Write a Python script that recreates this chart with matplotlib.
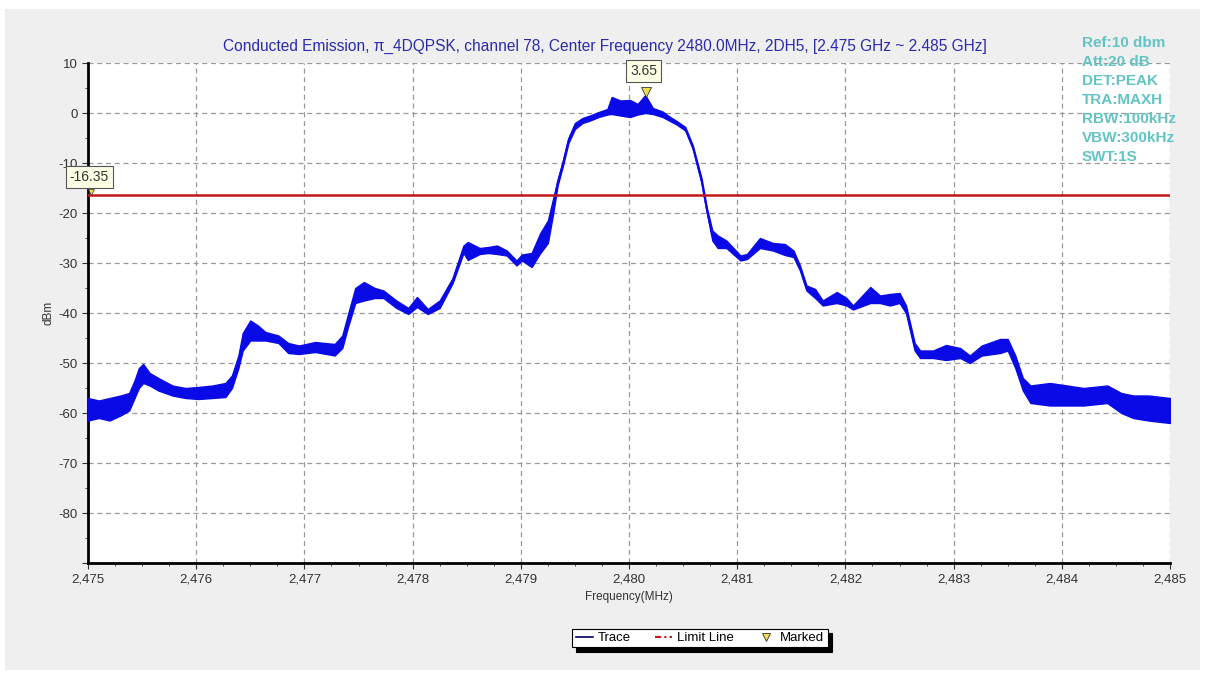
import matplotlib.pyplot as plt
from matplotlib.lines import Line2D
from matplotlib.patches import Rectangle
from matplotlib.ticker import MultipleLocator, FuncFormatter

plt.rcParams['font.family'] = ['Liberation Sans', 'DejaVu Sans']

# trace envelope (MHz, dBm upper, dBm lower)
freq = [2475.00, 2475.10, 2475.20, 2475.30, 2475.38, 2475.43, 2475.47, 2475.51, 2475.57, 2475.65,
        2475.78, 2475.90, 2476.02, 2476.15, 2476.27, 2476.33, 2476.39, 2476.43, 2476.50, 2476.57,
        2476.64, 2476.76, 2476.85, 2476.95, 2477.10, 2477.28, 2477.35, 2477.40, 2477.47, 2477.55,
        2477.65, 2477.73, 2477.85, 2477.96, 2478.04, 2478.14, 2478.25, 2478.37, 2478.47, 2478.51,
        2478.62, 2478.70, 2478.78, 2478.87, 2478.96, 2479.01, 2479.10, 2479.18, 2479.25, 2479.30,
        2479.34, 2479.39, 2479.44, 2479.50, 2479.57, 2479.64, 2479.72, 2479.80, 2479.84, 2479.92,
        2480.01, 2480.08, 2480.15, 2480.22, 2480.31, 2480.38, 2480.44, 2480.52, 2480.59, 2480.67,
        2480.72, 2480.77, 2480.82, 2480.90, 2481.03, 2481.09, 2481.21, 2481.33, 2481.44, 2481.52,
        2481.58, 2481.64, 2481.72, 2481.79, 2481.92, 2482.01, 2482.07, 2482.23, 2482.32, 2482.41,
        2482.50, 2482.56, 2482.64, 2482.69, 2482.81, 2482.93, 2483.06, 2483.15, 2483.26, 2483.43,
        2483.50, 2483.57, 2483.64, 2483.71, 2483.89, 2484.05, 2484.20, 2484.42, 2484.55, 2484.66,
        2484.80, 2485.00]
upper = [-57.0, -57.5, -57.0, -56.5, -56.0, -53.5, -51.0, -50.2, -52.0, -53.0,
         -54.5, -55.0, -54.8, -54.5, -54.0, -52.5, -48.5, -44.0, -41.5, -42.5,
         -43.8, -44.5, -46.0, -46.5, -45.8, -46.2, -44.5, -40.5, -35.0, -33.8,
         -35.0, -35.5, -37.5, -39.0, -36.8, -39.2, -37.5, -33.0, -26.5, -25.8,
         -27.0, -26.8, -26.5, -27.5, -29.5, -28.3, -28.0, -24.0, -21.5, -17.0,
         -13.4, -9.5, -5.0, -2.0, -1.0, -0.5, 0.2, 0.8, 3.2, 2.5,
         2.6, 1.8, 3.6, 1.0, 0.3, -0.8, -1.6, -2.8, -6.5, -13.0,
         -19.0, -23.5, -24.5, -25.5, -28.5, -28.2, -25.0, -26.0, -26.2, -27.5,
         -30.5, -34.5, -35.2, -37.5, -35.8, -37.0, -38.5, -34.8, -36.5, -36.2,
         -36.0, -38.5, -46.0, -47.5, -47.5, -46.4, -47.0, -48.5, -46.5, -45.2,
         -45.2, -48.5, -53.0, -54.5, -54.0, -54.5, -55.0, -54.5, -56.0, -56.5,
         -56.5, -57.0]
lower = [-61.5, -61.0, -61.5, -60.5, -59.5, -57.0, -55.0, -54.0, -54.5, -55.5,
         -56.5, -57.0, -57.2, -57.0, -56.8, -55.0, -51.0, -47.5, -45.5, -45.5,
         -45.5, -46.0, -48.0, -48.2, -47.8, -48.5, -47.0, -43.0, -38.0, -37.5,
         -37.0, -37.0, -39.0, -40.2, -38.8, -40.2, -39.0, -34.0, -28.0, -29.4,
         -28.2, -28.0, -28.2, -28.5, -30.5, -29.5, -30.8, -28.0, -26.0, -20.0,
         -14.5, -10.5, -6.0, -3.2, -2.0, -1.5, -0.8, -0.3, -0.2, -0.5,
         -0.8, -0.3, 0.0, -0.2, -0.8, -1.6, -2.3, -3.5, -7.2, -14.0,
         -20.0, -25.5, -27.0, -27.0, -29.5, -29.2, -27.0, -27.5, -28.4, -28.8,
         -31.5, -35.5, -37.0, -38.5, -38.0, -38.5, -39.3, -38.0, -38.0, -38.5,
         -38.0, -40.0, -47.5, -49.0, -49.0, -49.4, -49.0, -50.0, -48.5, -48.0,
         -47.5, -51.0, -55.5, -58.0, -58.5, -58.5, -58.5, -58.0, -60.0, -61.0,
         -61.5, -62.0]

limit_level = -16.35
peak_freq = 2480.16
peak_level = 3.65

settings = ['Ref:10 dbm', 'Att:20 dB', 'DET:PEAK', 'TRA:MAXH',
            'RBW:100kHz', 'VBW:300kHz', 'SWT:1S']

fig = plt.figure(figsize=(12.05, 6.75), dpi=100, facecolor='white')
fig.patches.append(Rectangle((5 / 1205, 5 / 675), 1195 / 1205, 661 / 675,
                             transform=fig.transFigure, facecolor='#efefef',
                             edgecolor='none', zorder=-10))

ax = fig.add_axes([88 / 1205, 112 / 675, 1082 / 1205, 500 / 675])
ax.set_zorder(2)
ax.set_facecolor('white')

mid = [(u + l) / 2 for u, l in zip(upper, lower)]
ax.fill_between(freq, lower, upper, color='#0a0ae6', linewidth=1.0, zorder=3)
ax.plot(freq, mid, color='#0a0ae6', linewidth=1.2, zorder=3)

ax.axhline(limit_level, color='#c01818', linewidth=1.8, zorder=4)

ax.set_xlim(2475, 2485)
ax.set_ylim(-90, 10)
ax.xaxis.set_major_locator(MultipleLocator(1))
ax.xaxis.set_minor_locator(MultipleLocator(0.25))
ax.yaxis.set_major_locator(MultipleLocator(10))
ax.yaxis.set_minor_locator(MultipleLocator(5))
ax.xaxis.set_major_formatter(FuncFormatter(lambda v, p: '{:,.0f}'.format(v)))
ax.yaxis.set_major_formatter(FuncFormatter(lambda v, p: '' if v < -85 else '%d' % v))
ax.tick_params(which='both', labelsize=9.5, colors='#333333', direction='out')
ax.tick_params(which='major', length=4)
ax.tick_params(which='minor', length=2)
ax.grid(True, which='major', linestyle=(0, (4, 3)), color='#999999', linewidth=0.9)

for s in ['top', 'right']:
    ax.spines[s].set_visible(False)
for s in ['left', 'bottom']:
    ax.spines[s].set_linewidth(2)
    ax.spines[s].set_color('black')

ax.set_xlabel('Frequency(MHz)', fontsize=8.5, color='#333333', labelpad=4)
ax.set_ylabel('dBm', fontsize=8.5, color='#333333', labelpad=3)

fig.text(605 / 1205, 1 - 46 / 675,
         'Conducted Emission, π_4DQPSK, channel 78, Center Frequency 2480.0MHz, 2DH5, [2.475 GHz ~ 2.485 GHz]',
         ha='center', va='center', fontsize=11.2, color='#2b2bb0')

# marker labels
box = dict(boxstyle='square,pad=0.3', facecolor='#ffffe6', edgecolor='#555555', linewidth=0.8)
ax.plot([peak_freq], [peak_level + 0.6], marker='v', markersize=7, color='#f0dc50',
        markeredgecolor='#333333', markeredgewidth=0.6, zorder=5)
ax.annotate('%.2f' % peak_level, xy=(peak_freq, peak_level), xytext=(-2, 17),
            textcoords='offset points', ha='center', va='center', fontsize=10,
            color='#333333', bbox=box, zorder=6)
ax.plot([2475.03], [limit_level + 0.6], marker='v', markersize=4, color='#f0dc50',
        markeredgecolor='#333333', markeredgewidth=0.5, zorder=5, clip_on=False)
ax.annotate('%.2f' % limit_level, xy=(2475, limit_level), xytext=(1, 13),
            textcoords='offset points', ha='center', va='center', fontsize=10,
            color='#333333', bbox=box, zorder=6, annotation_clip=False)

for i, s in enumerate(settings):
    fig.text(1082 / 1205, 1 - (43 + i * 19) / 675, s, ha='left', va='center',
             fontsize=11, fontweight='bold', color='#62c4c4', zorder=5)

handles = [Line2D([], [], color='#000060', linewidth=1.2),
           Line2D([], [], color='#c01818', linewidth=1.5, dashes=(3, 1.5, 1, 1.5)),
           Line2D([], [], color='#f0dc50', marker='v', linestyle='none', markersize=6,
                  markeredgecolor='#333333', markeredgewidth=0.6)]
leg = fig.legend(handles, ['Trace', 'Limit Line', 'Marked'], loc='center',
                 bbox_to_anchor=(700 / 1205, 1 - 638 / 675), ncol=3, fontsize=9.5,
                 frameon=True, fancybox=False,
                 shadow={'color': 'black', 'alpha': 1.0, 'ox': 3, 'oy': -3},
                 edgecolor='black', handlelength=1.3, handletextpad=0.4,
                 columnspacing=1.8, borderpad=0.25)
leg.get_frame().set_linewidth(0.8)

fig.savefig('out.png', dpi=100, facecolor='white')
